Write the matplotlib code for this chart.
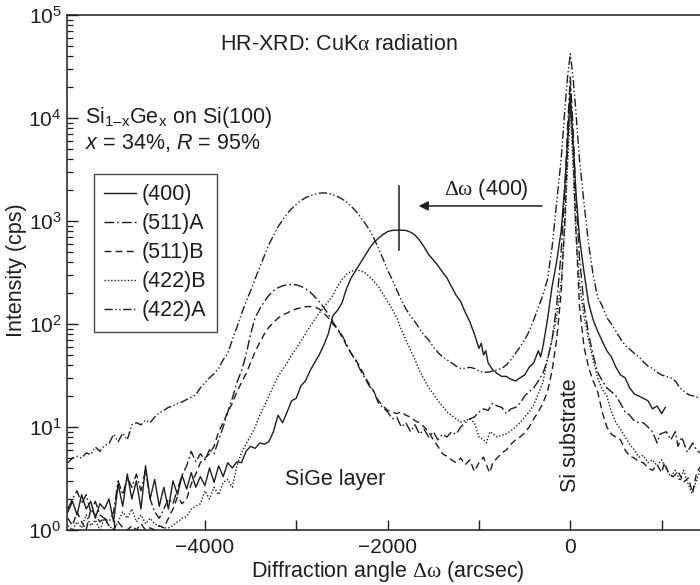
import matplotlib
matplotlib.use("Agg")
import matplotlib.pyplot as plt
from matplotlib.ticker import FixedLocator, LogLocator, NullFormatter

plt.rcParams['font.family'] = ['Liberation Sans', 'DejaVu Sans']
plt.rcParams['mathtext.fontset'] = 'custom'
plt.rcParams['mathtext.rm'] = 'Liberation Sans'
plt.rcParams['mathtext.it'] = 'Liberation Sans:italic'
plt.rcParams['mathtext.sf'] = 'Liberation Serif'

INK = '#1e1e1e'
FS = 15.5

# ---------------- data (arcsec, cps) ----------------
x_400 = [-5500, -5450, -5400, -5350, -5300, -5250, -5200, -5150, -5100, -5050, -5000, -4950, -4900, -4850,
         -4800, -4750, -4700, -4650, -4600, -4550, -4500, -4450, -4400, -4350, -4300, -4250, -4200, -4150,
         -4100, -4050, -4000, -3950, -3900, -3850, -3800, -3750, -3700, -3650, -3600, -3550, -3500, -3450,
         -3400, -3350, -3300, -3250, -3200, -3150, -3100, -3050, -3000, -2950, -2900, -2850, -2800, -2750,
         -2700, -2650, -2600, -2550, -2500, -2450, -2400, -2350, -2300, -2250, -2200, -2150, -2100, -2050,
         -2000, -1950, -1900, -1850, -1800, -1750, -1700, -1650, -1600, -1550, -1500, -1450, -1400, -1350,
         -1300, -1250, -1200, -1150, -1100, -1050, -1000, -975, -950, -925, -900, -850, -800, -750, -700,
         -650, -600, -550, -500, -450, -400, -350, -325, -300, -250, -200, -150, -100, -60, -30, 0, 30, 60,
         100, 150, 200, 250, 300, 350, 400, 450, 500, 550, 600, 650, 700, 750, 800, 850, 900, 950, 1000, 1040]
y_400 = [1.5, 1.9, 1.4, 2.2, 1.6, 1.9, 1.3, 1.8, 1.6, 2.0, 1.2, 2.8, 1.7, 3.5,
         2.0, 3.0, 1.6, 4.2, 2.0, 3.1, 1.7, 2.6, 1.6, 3.0, 2.2, 3.4, 2.5, 3.6,
         2.6, 3.3, 2.7, 4.0, 2.9, 4.2, 3.3, 4.5, 4.0, 4.6, 4.5, 5.8, 6.5, 6.2,
         7.0, 6.8, 7.2, 9, 13, 11, 14, 18, 19, 25, 28, 35, 42, 50,
         62, 80, 120, 135, 160, 220, 280, 330, 390, 460, 540, 620, 680, 740,
         790, 810, 815, 815, 810, 780, 730, 650, 560, 470, 420, 370, 320, 280,
         230, 190, 165, 130, 105, 80, 58, 65, 50, 55, 42, 36, 33, 31, 31,
         29, 28, 30, 32, 38, 42, 55, 48, 60, 110, 230, 400, 800, 2200, 6000, 16000, 6000, 2000,
         700, 320, 160, 110, 85, 68, 55, 48, 38, 32, 30, 24, 21, 20, 19, 18, 15, 16, 13.5, 15.5]

x_511A = [-5500, -5450, -5400, -5350, -5300, -5250, -5200, -5150, -5100, -5050, -5000, -4950, -4900, -4850,
          -4800, -4750, -4700, -4650, -4600, -4550, -4500, -4450, -4400, -4350, -4300, -4250, -4200, -4150,
          -4100, -4050, -4000, -3950, -3900, -3850, -3800, -3750, -3700, -3650, -3600, -3550, -3500, -3450,
          -3400, -3350, -3300, -3250, -3200, -3150, -3100, -3050, -3000, -2950, -2900, -2850, -2800, -2750,
          -2700, -2650, -2600, -2550, -2500, -2450, -2400, -2350, -2300, -2250, -2200, -2150, -2100, -2050,
          -2000, -1950, -1900, -1850, -1800, -1750, -1700, -1650, -1600, -1550, -1500, -1450, -1400, -1350,
          -1300, -1250, -1200, -1150, -1100, -1050, -1000, -950, -900, -850, -800, -750, -700, -650, -600,
          -550, -500, -450, -400, -350, -300, -250, -200, -150, -100, -60, -30, 0, 30, 60, 100, 150, 200,
          250, 300, 350, 400, 450, 500, 550, 600, 650, 700, 750, 800, 850, 900, 950, 980, 1050, 1100, 1150,
          1180, 1220, 1280, 1340, 1380, 1420]
y_511A = [1.6, 2.0, 2.4, 1.8, 2.2, 1.5, 1.9, 1.4, 1.3, 1.2, 1.5, 3.0, 2.2, 3.2,
          2.6, 3.5, 2.4, 3.8, 2.0, 1.5, 1.3, 1.6, 2.0, 1.8, 2.5, 3.4, 4.2, 5.8,
          4.6, 5.5, 4.8, 6.0, 5.5, 7.5, 10, 14, 19, 27, 35, 50, 80, 115,
          140, 165, 190, 210, 225, 235, 240, 242, 240, 232, 220, 205, 185, 165,
          145, 125, 105, 90, 78, 64, 52, 44, 36, 30, 25, 22, 17, 15.5,
          14, 12, 12.5, 10, 11, 9, 10.5, 8.5, 9.5, 8, 9, 7.5, 8.5, 8,
          9, 8.5, 10, 11, 12, 12.5, 14, 15, 14.5, 17, 16, 15.5, 13.5, 15, 15.5,
          17, 20, 22, 24, 28, 33, 45, 70, 150, 500, 2000, 8000, 25000, 8000, 1800, 450, 150, 80,
          50, 34, 28, 24, 22, 20, 17, 14, 13, 11.5, 11, 11, 10, 9, 7, 8.5, 9, 7.5, 9,
          6.5, 8, 5.7, 7, 6, 5.6]

x_511B = [-5500, -5450, -5400, -5350, -5300, -5250, -5200, -5150, -5100, -5050, -5000, -4950, -4900, -4850,
          -4800, -4750, -4700, -4650, -4600, -4550, -4500, -4450, -4400, -4350, -4300, -4250, -4200, -4150,
          -4100, -4050, -4000, -3950, -3900, -3850, -3800, -3750, -3700, -3650, -3600, -3550, -3500, -3450,
          -3400, -3350, -3300, -3250, -3200, -3150, -3100, -3050, -3000, -2950, -2900, -2850, -2800, -2750,
          -2700, -2650, -2600, -2550, -2500, -2450, -2400, -2350, -2300, -2250, -2200, -2150, -2100, -2050,
          -2000, -1950, -1900, -1850, -1800, -1750, -1700, -1650, -1600, -1550, -1500, -1450, -1400, -1350,
          -1300, -1250, -1200, -1150, -1100, -1050, -1000, -950, -900, -880, -850, -800, -750, -700, -650,
          -600, -550, -500, -450, -400, -350, -300, -250, -200, -150, -100, -60, -30, 0, 30, 60, 100, 150,
          200, 250, 300, 350, 400, 450, 500, 550, 600, 650, 700, 750, 800, 850, 900, 950, 1000, 1030, 1080,
          1130, 1180, 1240, 1290, 1340, 1380, 1420]
y_511B = [1.3, 1.1, 1.5, 1.2, 1.0, 1.6, 1.4, 1.2, 1.3, 1.1, 1.0, 1.2, 1.05, 1.0,
          1.1, 1.0, 1.15, 1.0, 1.05, 1.0, 1.1, 1.05, 1.3, 1.6, 2.1, 1.8, 2.0, 2.8,
          3.5, 4.5, 5.0, 5.5, 6.5, 9, 11, 14, 17, 22, 27, 33, 42, 54,
          66, 80, 93, 103, 114, 122, 128, 135, 140, 144, 147, 148, 146, 140,
          128, 115, 100, 90, 75, 62, 52, 45, 38, 31, 26, 22, 18, 16,
          14.5, 14, 13.5, 14, 13, 12.5, 11.5, 11, 10, 9, 7.5, 6.5, 5.5, 5.2,
          4.8, 4.5, 5.0, 4.3, 4.8, 3.7, 4.5, 5.1, 3.9, 3.6, 4.5, 5.0, 5.6, 6.0, 6.8,
          7.5, 8.0, 8.8, 10, 12, 14, 17, 22, 35, 70, 200, 1000, 5000, 20000, 5000, 900, 150, 60,
          38, 28, 22, 14, 10, 8.5, 8, 7.5, 6, 5.2, 5, 4.6, 4.5, 4.0, 3.8, 4.3, 3.6, 4.5, 3.5,
          3.3, 3.7, 2.9, 3.2, 2.3, 3.5, 4.1]

x_422B = [-5500, -5450, -5400, -5350, -5300, -5250, -5200, -5150, -5100, -5050, -5000, -4950, -4900, -4850,
          -4800, -4750, -4700, -4650, -4600, -4550, -4500, -4450, -4400, -4350, -4300, -4250, -4200, -4150,
          -4100, -4050, -4000, -3950, -3900, -3850, -3800, -3750, -3700, -3650, -3600, -3550, -3500, -3450,
          -3400, -3350, -3300, -3250, -3200, -3150, -3100, -3050, -3000, -2950, -2900, -2850, -2800, -2750,
          -2700, -2650, -2600, -2550, -2500, -2450, -2400, -2350, -2300, -2250, -2200, -2150, -2100, -2050,
          -2000, -1950, -1900, -1850, -1800, -1750, -1700, -1650, -1600, -1550, -1500, -1450, -1400, -1350,
          -1300, -1250, -1200, -1150, -1100, -1050, -1000, -950, -920, -880, -840, -800, -770, -700, -650,
          -600, -550, -500, -450, -400, -350, -300, -250, -200, -150, -100, -60, -30, 0, 30, 60, 100, 150,
          200, 250, 300, 350, 400, 450, 500, 550, 600, 650, 700, 750, 800, 850, 900, 950, 1000, 1050, 1100,
          1150, 1200, 1240, 1290, 1330, 1380, 1420]
y_422B = [1.1, 1.0, 1.2, 1.05, 1.4, 1.1, 1.25, 1.0, 1.3, 1.1, 1.0, 1.2, 1.5, 1.3,
          1.6, 1.2, 1.4, 1.15, 1.3, 1.15, 1.1, 1.05, 1.05, 1.1, 1.2, 1.3, 1.35, 1.6,
          1.7, 1.8, 2.4, 2.0, 2.6, 2.2, 2.9, 3.1, 2.6, 4.2, 5.6, 6.8, 8.2, 10,
          13, 16, 20, 25, 31, 36, 42, 50, 58, 68, 80, 95, 110, 127,
          145, 165, 190, 230, 270, 305, 325, 333, 330, 315, 290, 260, 230, 195,
          165, 140, 115, 88, 70, 56, 45, 35, 29, 24, 21, 18, 16, 14,
          13, 12, 11.2, 11.5, 12, 11, 8, 7.5, 7, 9, 8.5, 8, 8.2, 8.6, 9.2,
          10, 11, 12.5, 14, 16.5, 21, 27, 45, 70, 117, 250, 900, 3500, 12000, 3500, 800, 250, 120,
          70, 45, 30, 23, 20, 14, 11, 9.5, 8, 6.8, 6, 5.1, 5.3, 4.5, 4.8, 4.2, 4.8, 3.9, 3.3,
          3.8, 3.0, 3.8, 2.8, 2.3, 3.0, 3.8]

x_422A = [-5500, -5450, -5400, -5350, -5300, -5250, -5200, -5150, -5100, -5050, -5000, -4950, -4900, -4850,
          -4800, -4750, -4700, -4650, -4600, -4550, -4500, -4450, -4400, -4350, -4300, -4250, -4200, -4150,
          -4100, -4050, -4000, -3950, -3900, -3850, -3800, -3750, -3700, -3650, -3600, -3550, -3500, -3450,
          -3400, -3350, -3300, -3250, -3200, -3150, -3100, -3050, -3000, -2950, -2900, -2850, -2800, -2750,
          -2700, -2650, -2600, -2550, -2500, -2450, -2400, -2350, -2300, -2250, -2200, -2150, -2100, -2050,
          -2000, -1950, -1900, -1850, -1800, -1750, -1700, -1650, -1600, -1550, -1500, -1450, -1400, -1350,
          -1300, -1250, -1200, -1150, -1100, -1050, -1000, -950, -900, -850, -800, -750, -700, -650, -600,
          -550, -500, -450, -400, -350, -300, -250, -200, -150, -100, -60, -30, 0, 30, 60, 100, 150, 200,
          250, 300, 350, 400, 450, 500, 550, 600, 650, 700, 750, 800, 850, 900, 950, 1000, 1050, 1100, 1150,
          1200, 1250, 1300, 1350, 1420]
y_422A = [4.5, 5.0, 5.2, 5.0, 5.6, 5.4, 6.4, 5.8, 6.6, 6.9, 8.5, 7.2, 8.7, 7.5,
          10.5, 11, 10.5, 11.7, 11, 12.5, 13.7, 14.5, 15.5, 16, 17, 17.5, 18.5, 19.5,
          20.5, 24, 27, 30, 33, 37, 45, 52, 70, 93, 125, 165, 210, 275,
          355, 460, 590, 720, 880, 1020, 1180, 1320, 1450, 1580, 1680, 1760, 1820, 1860,
          1875, 1860, 1800, 1730, 1640, 1530, 1400, 1250, 1100, 960, 820, 680, 540, 430,
          333, 270, 214, 170, 140, 120, 105, 90, 78, 70, 60, 53, 48, 45,
          42, 39, 37, 37, 38, 37, 35, 34, 34, 35, 36, 37, 40, 45, 52,
          60, 70, 85, 110, 145, 190, 270, 550, 1500, 4000, 12000, 25000, 42000, 25000, 12000, 4000, 1500, 600,
          300, 180, 150, 115, 100, 85, 72, 62, 57, 52, 48, 43, 39, 37, 34, 32, 31, 30, 28,
          24, 22, 20.5, 20, 19]

series_labels = ['(400)', '(511)A', '(511)B', '(422)B', '(422)A']
x_ticks = [-5000, -4000, -3000, -2000, -1000, 0, 1000]
x_tick_labels = ['', '\u22124000', '', '\u22122000', '', '0', '']

# ---------------- figure ----------------
fig = plt.figure(figsize=(7.0, 5.85), dpi=100)
ax = fig.add_axes([67 / 700, 1 - 530 / 585, 1 - 67 / 700, (530 - 15) / 585])

styles = ['-', (0, (7, 2.2, 1.2, 2.2)), (0, (5, 3)), (0, (1, 1.4)), (0, (6, 1.8, 1, 1.8, 1, 1.8))]
xs = [x_400, x_511A, x_511B, x_422B, x_422A]
ys = [y_400, y_511A, y_511B, y_422B, y_422A]
for xv, yv, ls, lab in zip(xs, ys, styles, series_labels):
    ax.plot(xv, yv, color=INK, lw=1.0, ls=ls, label=lab)

ax.set_yscale('log')
ax.set_xlim(-5510, 1420)
ax.set_ylim(1, 1e5)

ax.xaxis.set_major_locator(FixedLocator(x_ticks))
ax.set_xticklabels(x_tick_labels)
ax.yaxis.set_major_locator(LogLocator(base=10, numticks=10))
ax.yaxis.set_minor_locator(LogLocator(base=10, subs=range(2, 10), numticks=20))
ax.yaxis.set_minor_formatter(NullFormatter())

ax.tick_params(axis='both', which='both', direction='in', color=INK, labelcolor=INK, labelsize=15)
ax.tick_params(axis='x', which='major', length=7, width=1.0, pad=6)
ax.tick_params(axis='y', which='major', length=8, width=1.0, pad=4)
ax.tick_params(axis='y', which='minor', length=4, width=0.9)
ax.tick_params(top=False, right=False)
for s in ['left', 'bottom', 'top']:
    ax.spines[s].set_color(INK)
    ax.spines[s].set_linewidth(1.1)
ax.spines['right'].set_visible(False)

# legend
leg = ax.legend(loc='upper left', bbox_to_anchor=((94 - 67) / 633, (530 - 174) / 515),
                borderaxespad=0, frameon=True, fancybox=False, fontsize=FS,
                handlelength=1.45, handletextpad=0.3, labelspacing=0.37, borderpad=0.48)
leg.get_frame().set_edgecolor(INK)
leg.get_frame().set_linewidth(1.0)
for t in leg.get_texts():
    t.set_color(INK)

# annotations
ax.text((220 - 67) / 633, (530 - 45) / 515, r'HR-XRD: CuK$\mathsf{\alpha}$ radiation', transform=ax.transAxes,
        fontsize=FS, color=INK, ha='left', va='center')
ax.text((85 - 67) / 633, (530 - 118) / 515, r'Si$_{\mathrm{1–x}}$Ge$_{\mathrm{x}}$ on Si(100)',
        transform=ax.transAxes, fontsize=FS, color=INK, ha='left', va='center')
ax.text((85 - 67) / 633, (530 - 143) / 515, r'$x$ = 34%, $R$ = 95%',
        transform=ax.transAxes, fontsize=FS, color=INK, ha='left', va='center')
ax.text((486 - 67) / 633, (530 - 190) / 515, r'$\mathsf{\Delta\omega}$ (400)', transform=ax.transAxes,
        fontsize=FS, color=INK, ha='center', va='center')
ax.annotate('', xy=(-1660, 1400), xytext=(-310, 1400),
            arrowprops=dict(arrowstyle='-|>', color=INK, lw=1.1, mutation_scale=14,
                            shrinkA=0, shrinkB=0))
ax.plot([-1877, -1877], [523, 2190], color=INK, lw=1.1)
ax.text(-2570, (530 - 480) / 515, 'SiGe layer', transform=ax.get_xaxis_transform(), fontsize=FS,
        color=INK, ha='center', va='center')
ax.text(5, (530 - 435) / 515, 'Si substrate', transform=ax.get_xaxis_transform(), fontsize=FS,
        color=INK, ha='center', va='center', rotation=90)

fig.text(17 / 700, 1 - 270 / 585, 'Intensity (cps)', rotation=90, fontsize=FS, color=INK,
         ha='center', va='center')
fig.text(388 / 700, 1 - 572 / 585, r'Diffraction angle $\mathsf{\Delta\omega}$ (arcsec)', fontsize=FS,
         color=INK, ha='center', va='center')

fig.savefig('out.png', dpi=100)
